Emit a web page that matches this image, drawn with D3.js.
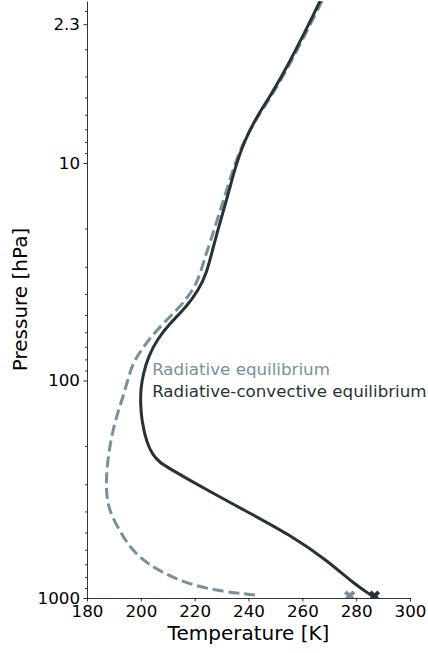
<!DOCTYPE html>
<html>
<head>
<meta charset="utf-8">
<script src="https://cdn.jsdelivr.net/npm/d3@7"></script>
<style>
  body { margin: 0; background: #fff; }
  text { font-family: "DejaVu Sans", sans-serif; }
</style>
</head>
<body>
<div id="chart"></div>
<script>

// Data
// ==============================
// radiative-convective equilibrium profile
var rceTemp = [266.6, 259.5, 251.7, 247.1, 242.4, 238.7, 235.5, 232.6, 230.0, 226.6, 224.5, 221.4, 217.0, 210.8, 205.9, 202.8, 200.9, 199.9, 199.9, 200.3, 202.2, 204.5, 207.1, 209.7, 224.5, 240.6, 255.4, 269.1, 278.9, 286.0];
var rcePres = [1.8, 2.72, 4.15, 5.13, 6.34, 7.84, 10.0, 13.7, 17.7, 25.1, 32.0, 38.4, 45.8, 54.6, 65.1, 77.7, 92.7, 110.6, 129.6, 152, 194.4, 220.1, 238.2, 249.9, 318.7, 408, 513, 669, 855.6, 979];

// radiative equilibrium profile
var reTemp = [267.3, 260.1, 252.1, 247.5, 242.6, 238.5, 235.0, 231.6, 228.7, 225.7, 223.8, 222.2, 219.5, 214.6, 208.3, 202.8, 198.5, 196.3, 193.5, 190.4, 187.9, 187.1, 187.3, 188.5, 194.7, 199.7, 207.1, 218.3, 230.6, 242.4];
var rePres = [1.8, 2.72, 4.15, 5.13, 6.34, 7.84, 10.0, 13.7, 17.7, 23.3, 27.1, 32.1, 38.4, 45.8, 54.6, 65.1, 77.7, 87.6, 118.7, 152, 216.1, 286.8, 342.2, 408, 560.6, 655, 757, 871, 935, 969];

// surface temperatures (markers)
var surfTemp = [277.6, 286.8];
var surfPres = [980, 980];

// ticks
var xTicks = [180, 200, 220, 240, 260, 280, 300];
var yTicks = [2.3, 10, 100, 1000];
var yMinor = [2, 3, 4, 5, 6, 7, 8, 9, 20, 30, 40, 50, 60, 70, 80, 90, 200, 300, 400, 500, 600, 700, 800, 900];

var labels = ["Radiative equilibrium", "Radiative-convective equilibrium"];

var darkColor = "#263238";
var greyColor = "#78909c";

// Set chart parameters
// ==============================
var svgWidth = 428;
var svgHeight = 653;

var margin = {
  top: 1,
  right: 18,
  bottom: 55,
  left: 87
};

var width = svgWidth - margin.left - margin.right;
var height = svgHeight - margin.top - margin.bottom;

var svg = d3.select("#chart")
  .append("svg")
  .attr("width", svgWidth)
  .attr("height", svgHeight);

var chartGroup = svg.append("g")
  .attr("transform", `translate(${margin.left}, ${margin.top})`);

chartGroup.append("clipPath")
  .attr("id", "plot-clip")
  .append("rect")
  .attr("width", width)
  .attr("height", height);

// Scales
// ==============================
var xScale = d3.scaleLinear()
  .domain([180, 300])
  .range([0, width]);

var yScale = d3.scaleLog()
  .domain([1000, 1.8])
  .range([height, 0]);

// Axes
// ==============================
var bottomAxis = d3.axisBottom(xScale)
  .tickValues(xTicks)
  .tickSize(3.5)
  .tickSizeOuter(0)
  .tickPadding(3.5);

var leftAxis = d3.axisLeft(yScale)
  .tickValues(yTicks)
  .tickFormat(d => String(d))
  .tickSize(3.5)
  .tickSizeOuter(0)
  .tickPadding(3.5);

var minorAxis = d3.axisLeft(yScale)
  .tickValues(yMinor)
  .tickFormat("")
  .tickSize(2)
  .tickSizeOuter(0);

var xAxisG = chartGroup.append("g")
  .attr("transform", `translate(0, ${height})`)
  .call(bottomAxis);

var yAxisG = chartGroup.append("g")
  .call(leftAxis);

var yMinorG = chartGroup.append("g")
  .call(minorAxis);
yMinorG.select(".domain").remove();

[xAxisG, yAxisG, yMinorG].forEach(function(g) {
  g.selectAll("path, line")
    .attr("stroke", "#000")
    .attr("stroke-width", 0.8);
  g.selectAll("text")
    .attr("fill", "#000")
    .style("font-family", "DejaVu Sans")
    .style("font-size", "16.7px");
});

// Lines
// ==============================
var line = d3.line()
  .x(d => xScale(d[0]))
  .y(d => yScale(d[1]))
  .curve(d3.curveBasis);

var plotArea = chartGroup.append("g")
  .attr("clip-path", "url(#plot-clip)");

var reData = reTemp.map((t, i) => [t, rePres[i]]);
var rceData = rceTemp.map((t, i) => [t, rcePres[i]]);

plotArea.append("path")
  .datum(reData)
  .attr("d", line)
  .attr("fill", "none")
  .attr("stroke", greyColor)
  .attr("stroke-width", 3)
  .attr("stroke-dasharray", "11.1,4.8");

plotArea.append("path")
  .datum(rceData)
  .attr("d", line)
  .attr("fill", "none")
  .attr("stroke", darkColor)
  .attr("stroke-width", 3);

// surface markers
var cross = d3.symbol().type(d3.symbolCross).size(80);
plotArea.selectAll(".surf")
  .data(surfTemp)
  .enter()
  .append("path")
  .attr("class", "surf")
  .attr("d", cross)
  .attr("transform", (d, i) => `translate(${xScale(d)}, ${yScale(surfPres[i])}) rotate(45)`)
  .attr("fill", (d, i) => i === 0 ? greyColor : darkColor);

// Labels on the plot
// ==============================
chartGroup.append("text")
  .attr("x", xScale(204.2))
  .attr("y", yScale(94.3))
  .attr("fill", greyColor)
  .style("font-size", "16.7px")
  .text(labels[0]);

chartGroup.append("text")
  .attr("x", xScale(204.2))
  .attr("y", yScale(119))
  .attr("fill", darkColor)
  .style("font-size", "16.7px")
  .text(labels[1]);

// Axis titles
// ==============================
chartGroup.append("text")
  .attr("transform", "rotate(-90)")
  .attr("x", -height / 2)
  .attr("y", -margin.left + 27)
  .attr("text-anchor", "middle")
  .attr("fill", "#000")
  .style("font-size", "20px")
  .text("Pressure [hPa]");

chartGroup.append("text")
  .attr("x", width / 2)
  .attr("y", height + 42)
  .attr("text-anchor", "middle")
  .attr("fill", "#000")
  .style("font-size", "20px")
  .text("Temperature [K]");

</script>
</body>
</html>
